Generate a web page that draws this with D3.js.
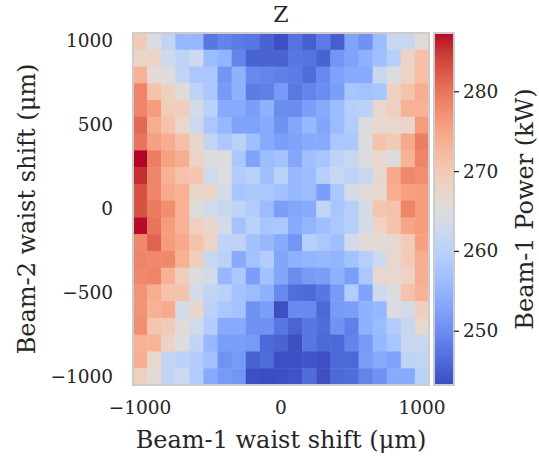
<!DOCTYPE html>
<html>
<head>
<meta charset="utf-8">
<script src="https://cdn.jsdelivr.net/npm/d3@7"></script>
<style>
  body { margin: 0; background: #fff; }
  svg { font-family: "DejaVu Serif", serif; }
</style>
</head>
<body>
<svg id="chart" width="539" height="464"></svg>
<script>
// beam-1 waist shift (columns) and beam-2 waist shift (rows, top to bottom)
const shiftX = d3.range(-1000, 1001, 100);
const shiftY = d3.range(1000, -1001, -100);

// beam-1 power (kW), one row per beam-2 shift
const power = [
  [269.5, 264.5, 261, 255.5, 255.5, 247.5, 249, 248, 247.5, 245.5, 243.5, 247, 245, 248, 245, 252.5, 250.5, 256, 262, 262, 266],
  [267.5, 268, 262.5, 260.5, 262.5, 256, 255, 249, 245.5, 245.5, 245.5, 247.5, 247, 245.5, 251, 252.5, 254.5, 256.5, 259.5, 268, 271.5],
  [273.5, 266, 265, 261, 258, 258, 251, 254.5, 249.5, 249, 248.5, 248, 246.5, 249.5, 252.5, 253.5, 253.5, 262, 265, 268, 271.5],
  [278.5, 271, 268.5, 266, 260.5, 258, 251.5, 254.5, 248, 248.5, 251.5, 247.5, 249, 250, 252, 257.5, 257, 257.5, 268.5, 271, 274],
  [278.5, 276, 269, 269, 263.5, 260, 253.5, 253.5, 252, 254.5, 250, 250, 252, 253.5, 256, 259.5, 260, 267, 268.5, 273.5, 273.5],
  [281, 274, 271, 267, 262.5, 258, 255.5, 252.5, 252.5, 253.5, 250.5, 253, 255.5, 253, 256, 259, 265, 267, 267, 267.5, 276],
  [280, 275.5, 274, 271.5, 267.5, 261, 258, 260, 256.5, 253.5, 252, 252.5, 253.5, 253.5, 258, 258, 265, 271, 269.5, 274.5, 279],
  [287.3, 279, 275.5, 274, 268, 265, 265, 258, 252.5, 256, 257, 253, 256.5, 257.5, 260.5, 262, 265, 267, 265, 273.5, 278.5],
  [285.5, 278.5, 273.5, 271, 270.5, 263, 265, 259, 260, 256.5, 260, 255.5, 256, 259.5, 262, 260.5, 262, 267, 274.5, 278, 277.5],
  [283, 278.5, 274.5, 273.5, 267.5, 267.5, 263.5, 257.5, 258, 258, 257, 255.5, 256, 252, 258, 263.5, 266, 267, 274, 275.5, 276],
  [283, 279.5, 277.5, 273.5, 265.5, 263, 262, 260.5, 259, 256, 252, 253, 253.5, 261, 257.5, 259.5, 263.5, 270.5, 271, 278.5, 276],
  [287, 280, 276, 273.5, 268.5, 267.5, 263.5, 257, 260, 257.5, 258, 253.5, 255, 256.5, 258, 259.5, 263.5, 268, 271, 275, 276],
  [278, 281.5, 276, 274.5, 271, 268, 260.5, 260.5, 257, 255.5, 253.5, 251, 259.5, 258, 256.5, 263.5, 266, 266, 267, 269.5, 275.5],
  [278.5, 278, 278, 273.5, 269, 262, 260, 253.5, 257, 259, 253, 254.5, 255, 255.5, 255, 257, 259.5, 262.5, 267, 269.5, 274],
  [278, 278.5, 273.5, 269, 265, 263.5, 255.5, 258, 252, 257, 253, 250, 251.5, 252, 254.5, 252, 258, 267, 267, 268, 274],
  [277, 274, 271, 271, 263.5, 261, 260, 257, 256, 254.5, 249.5, 246.5, 246, 247.5, 251.5, 259, 252.5, 262.5, 265, 271, 273.5],
  [277, 273.5, 274.5, 263.5, 267.5, 260, 258, 257, 250.5, 252, 243.5, 249.5, 249.5, 246, 251.5, 252, 254.5, 255.5, 265, 263.5, 269],
  [277.5, 270.5, 269.5, 266, 263, 259, 253.5, 253.5, 250.5, 250.5, 247.5, 245.5, 247.5, 246.5, 250.5, 248.5, 254.5, 256, 259, 262, 267],
  [273.5, 273, 268, 265, 261, 255.5, 252, 252, 251.5, 246, 245.5, 243.5, 247.5, 246, 246, 249, 251.5, 255.5, 257.5, 262, 262],
  [274, 267, 261, 260, 259, 257, 250.5, 251.5, 245.5, 246.5, 243.5, 243.5, 244, 243.5, 246, 246, 252, 253.5, 252.5, 260.5, 261],
  [268.5, 266, 261, 262.5, 259, 253.5, 251.5, 251, 243.5, 243.3, 243.5, 244, 246.5, 243.5, 246, 246.5, 249, 250.5, 253.5, 253.5, 260]
];

const xTicks = [-1000, 0, 1000];
const yTicks = [1000, 500, 0, -500, -1000];
const cbarTicks = [250, 260, 270, 280];
const powerMin = 243.2;
const powerMax = 287.3;

// matplotlib coolwarm control points
const coolwarm = [
  '#3b4cc0', '#445acc', '#4d68d7', '#5775e1', '#6282ea', '#6c8ef1', '#779af7', '#82a5fb',
  '#8db0fe', '#98b9ff', '#a3c2ff', '#aec9fd', '#b8d0f9', '#c2d5f4', '#ccd9ee', '#d5dbe6',
  '#dddddd', '#e5d8d1', '#ecd3c5', '#f1ccb9', '#f5c4ad', '#f7bba0', '#f7b194', '#f7a687',
  '#f49a7b', '#f18d6f', '#ec7f63', '#e57058', '#de604d', '#d55042', '#cb3e38', '#c0282f',
  '#b40426'
];

const svg = d3.select('#chart');
const ink = '#262626';
const frame = '#cccccc';
const tickFont = '18.5px';
const labelFont = '24px';

const plot = { left: 133, top: 33, width: 296, height: 352 };
const cbar = { left: 434, top: 33, width: 20, height: 352 };

const color = d3.scaleSequential(d3.interpolateRgbBasis(coolwarm))
  .domain([powerMin, powerMax]);

const x = d3.scaleBand()
  .domain(shiftX)
  .range([plot.left, plot.left + plot.width]);
const y = d3.scaleBand()
  .domain(shiftY)
  .range([plot.top, plot.top + plot.height]);

const cells = [];
power.forEach((row, i) => {
  row.forEach((v, j) => {
    cells.push({ sx: shiftX[j], sy: shiftY[i], v: v });
  });
});

svg.append('g')
  .selectAll('rect')
  .data(cells)
  .join('rect')
  .attr('x', d => x(d.sx))
  .attr('y', d => y(d.sy))
  .attr('width', x.bandwidth() + 0.5)
  .attr('height', y.bandwidth() + 0.5)
  .attr('fill', d => color(d.v));

svg.append('rect')
  .attr('x', plot.left)
  .attr('y', plot.top)
  .attr('width', plot.width)
  .attr('height', plot.height)
  .attr('fill', 'none')
  .attr('stroke', frame)
  .attr('stroke-width', 2);

const fmt = d => d3.format('d')(d).replace('-', '\u2212');

const xAxis = svg.append('g')
  .attr('transform', 'translate(0,' + (plot.top + plot.height) + ')')
  .call(d3.axisBottom(x).tickValues(xTicks).tickSize(0).tickPadding(16).tickFormat(fmt));
const yAxis = svg.append('g')
  .attr('transform', 'translate(' + plot.left + ',0)')
  .call(d3.axisLeft(y).tickValues(yTicks).tickSize(0).tickPadding(20).tickFormat(fmt));

[xAxis, yAxis].forEach(g => {
  g.select('.domain').remove();
  g.selectAll('text')
    .attr('fill', ink)
    .style('font-family', '"DejaVu Serif", serif')
    .style('font-size', tickFont);
});

// colorbar
const cScale = d3.scaleLinear()
  .domain([powerMin, powerMax])
  .range([cbar.top + cbar.height, cbar.top]);

const strips = d3.range(0, cbar.height);
svg.append('g')
  .selectAll('rect')
  .data(strips)
  .join('rect')
  .attr('x', cbar.left)
  .attr('y', d => cbar.top + d)
  .attr('width', cbar.width)
  .attr('height', 1.2)
  .attr('fill', d => color(cScale.invert(cbar.top + d + 0.5)));

svg.append('rect')
  .attr('x', cbar.left)
  .attr('y', cbar.top)
  .attr('width', cbar.width)
  .attr('height', cbar.height)
  .attr('fill', 'none')
  .attr('stroke', frame)
  .attr('stroke-width', 2);

const cAxis = svg.append('g')
  .attr('transform', 'translate(' + (cbar.left + cbar.width) + ',0)')
  .call(d3.axisRight(cScale).tickValues(cbarTicks).tickSize(5).tickPadding(4));
cAxis.select('.domain').remove();
cAxis.selectAll('line').attr('stroke', ink).attr('stroke-width', 1.3);
cAxis.selectAll('text')
  .attr('fill', ink)
  .style('font-family', '"DejaVu Serif", serif')
  .style('font-size', tickFont);

// titles
svg.append('text')
  .attr('x', plot.left + plot.width / 2)
  .attr('y', 22)
  .attr('text-anchor', 'middle')
  .attr('fill', ink)
  .style('font-size', '22px')
  .text('Z');

svg.append('text')
  .attr('x', plot.left + plot.width / 2)
  .attr('y', 448)
  .attr('text-anchor', 'middle')
  .attr('fill', ink)
  .style('font-size', labelFont)
  .text('Beam-1 waist shift (\u03bcm)');

svg.append('text')
  .attr('transform', 'translate(35,' + (plot.top + plot.height / 2) + ') rotate(-90)')
  .attr('text-anchor', 'middle')
  .attr('fill', ink)
  .style('font-size', labelFont)
  .text('Beam-2 waist shift (\u03bcm)');

svg.append('text')
  .attr('transform', 'translate(533,' + (cbar.top + cbar.height / 2) + ') rotate(-90)')
  .attr('text-anchor', 'middle')
  .attr('fill', ink)
  .style('font-size', labelFont)
  .text('Beam-1 Power (kW)');
</script>
</body>
</html>
